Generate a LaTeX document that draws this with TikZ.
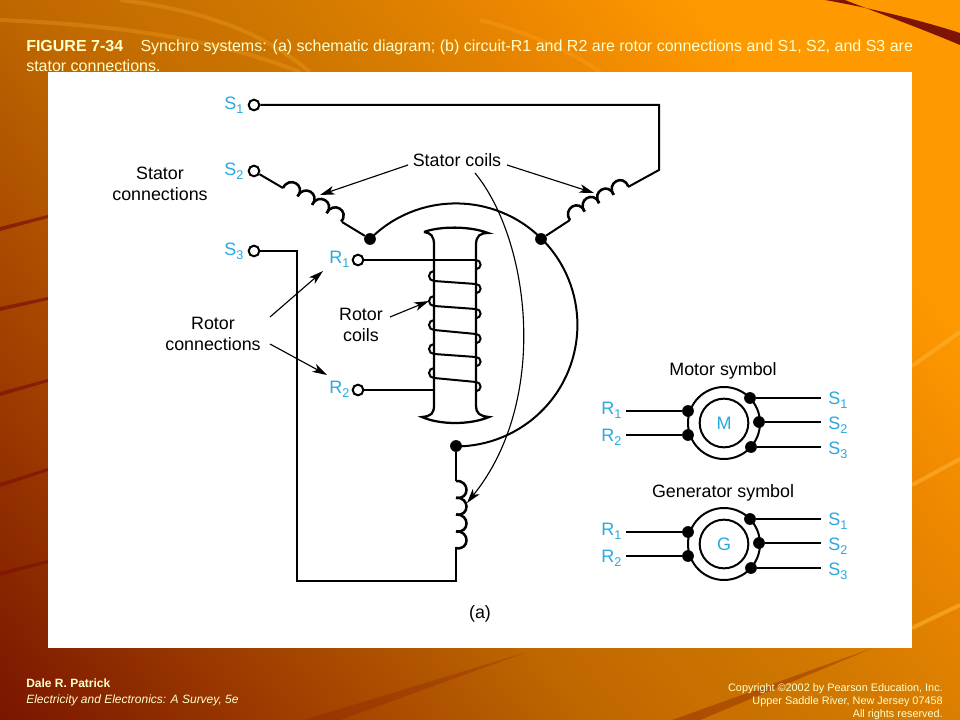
\documentclass[tikz,border=0pt]{standalone}
\usepackage{fontspec}
\setmainfont{Liberation Sans}
\usetikzlibrary{arrows.meta}

\definecolor{labelblue}{HTML}{29A9E0}
\definecolor{titlecream}{HTML}{FFFFCC}
\definecolor{stripered}{HTML}{7E1408}
\definecolor{streaklight}{HTML}{FFB030}
\definecolor{bgA}{HTML}{7A1500}
\definecolor{bgB}{HTML}{A04000}
\definecolor{bgC}{HTML}{C06800}
\definecolor{bgD}{HTML}{D07800}
\definecolor{bgE}{HTML}{EE8800}
\definecolor{bgF}{HTML}{FF9900}

\pgfdeclareverticalshading{slidebg}{100bp}{color(0bp)=(bgA); color(14.8bp)=(bgA); color(28.9bp)=(bgB); color(42.3bp)=(bgC); color(54.2bp)=(bgD); color(65.5bp)=(bgE); color(73.2bp)=(bgF); color(100bp)=(bgF)}

\newcommand{\lowsub}[1]{\smash{\raisebox{-3.4pt}{\fontsize{9.5}{9.5}\selectfont #1}}}

\tikzset{
  wire/.style={line width=1.5pt},
  thinarrow/.style={line width=0.85pt,-{Stealth[length=11pt,width=6.5pt,inset=3pt]}},
  terminal/.style={circle,draw,fill=white,line width=1.5pt,inner sep=0pt,minimum size=8pt},
  junction/.style={circle,fill=black,inner sep=0pt,minimum size=8.8pt},
  sig/.style={text=labelblue,font=\fontsize{13.5}{13.5}\selectfont,inner sep=0pt,anchor=west},
  caption/.style={font=\fontsize{13.4}{15.8}\selectfont,align=center,inner sep=0pt},
  streak/.style={line width=3pt,streaklight,opacity=0.6},
  coilhumps/.pic={
    \foreach \i in {0,...,3}
      \draw[line width=1.9pt] (\i*16.8,0) .. controls (\i*16.8-1,-14) and (\i*16.8+19,-14) .. (\i*16.8+16.8,0);
  }
}

\begin{document}
\begin{tikzpicture}[x=0.75pt,y=-0.75pt]
  \useasboundingbox (0,0) rectangle (960,720);
  \shade[shading=slidebg,shading angle=-51] (0,0) rectangle (960,720);

  \draw[streak] (912,366) -- (960,332);
  \draw[streak] (912,485) -- (960,459);
  \draw[streak] (912,628) -- (960,605);
  \draw[streak,opacity=0.25] (0,20) .. controls (120,25) and (220,40) .. (300,72);
  \draw[streak,opacity=0.25] (120,0) .. controls (200,10) and (260,30) .. (310,72);
  \draw[streak,opacity=0.25] (480,20) .. controls (520,30) and (570,50) .. (600,72);

  \fill[stripered] (825,0) .. controls (870,8) and (920,20) .. (960,33) -- (960,45) .. controls (920,28) and (870,10) .. (845,0) -- cycle;
  \foreach \ya/\yb in {227/215,307/297,392/379,483/468,572/560}
    \fill[stripered,opacity=0.75] (0,\ya) -- (48,\yb) -- (48,\yb+3) -- (0,\ya+4) -- cycle;
  \fill[stripered,opacity=0.25] (304,720) -- (527,652) -- (340,720) -- cycle;
  \fill[stripered,opacity=0.35] (672,720) -- (873,648) -- (700,720) -- cycle;

  \node[anchor=north west,inner sep=0pt,align=left,text=titlecream,font=\fontsize{12}{14.4}\selectfont] (title) at (26,40)
    {\textbf{FIGURE 7-34}\hspace{13pt}Synchro systems: (a) schematic diagram; (b) circuit-R1 and R2 are rotor connections and S1, S2, and S3 are\\stator connections.};
  \node[anchor=north west,inner sep=0pt,align=left,text=titlecream,font=\fontsize{9}{11.3}\selectfont] (author) at (26,679)
    {\textbf{Dale R. Patrick}\\\textit{Electricity and Electronics: A Survey, 5e}};
  \node[anchor=north east,inner sep=0pt,align=right,text=titlecream,font=\fontsize{8.15}{9.8}\selectfont] (rights) at (943,683)
    {Copyright ©2002 by Pearson Education, Inc.\\Upper Saddle River, New Jersey 07458\\All rights reserved.};

  \fill[white] (48,72) rectangle (912,648);

  \node[terminal] (S1term) at (254,105) {};
  \node[terminal] (S2term) at (254,171) {};
  \node[terminal] (S3term) at (254,251) {};
  \node[terminal] (R1term) at (358,260) {};
  \node[terminal] (R2term) at (358,390) {};
  \node[sig] (S1lab) at (224,103) {S\lowsub{1}};
  \node[sig] (S2lab) at (224,169) {S\lowsub{2}};
  \node[sig] (S3lab) at (224,249) {S\lowsub{3}};
  \node[sig] (R1lab) at (329,257) {R\lowsub{1}};
  \node[sig] (R2lab) at (329,387) {R\lowsub{2}};

  \node[junction] (dotA) at (370,239) {};
  \node[junction] (dotB) at (541,239) {};
  \node[junction] (dotC) at (456,446) {};
  \draw[wire] (dotA.center) arc[start angle=-135,end angle=90,radius=121.5];

  \coordinate (coilAa) at (283,188);
  \coordinate (coilAb) at (342,222);
  \coordinate (coilBa) at (570,220);
  \coordinate (coilBb) at (628,187);
  \coordinate (coilCa) at (456,481);
  \coordinate (coilCb) at (456,547);
  \coordinate (cornerA) at (659,105);
  \coordinate (cornerB) at (659,170);
  \coordinate (cornerC) at (456,581);
  \coordinate (cornerD) at (297,581);
  \coordinate (cornerE) at (297,251);

  \draw[wire] (S2term) -- (coilAa);
  \draw[wire] (coilAb) -- (dotA);
  \draw[wire] (dotB) -- (coilBa);
  \draw[wire] (coilBb) -- (cornerB) -- (cornerA) -- (S1term);
  \draw[wire] (dotC) -- (coilCa);
  \draw[wire] (coilCb) -- (cornerC) -- (cornerD) -- (cornerE) -- (S3term);
  \pic[rotate=-30] at (coilAa) {coilhumps};
  \pic[rotate=30] at (coilBa) {coilhumps};
  \pic[rotate=-90] at (coilCa) {coilhumps};

  \draw[line width=1.7pt] (424,232) .. controls (440,226) and (470,226) .. (488,233)
    .. controls (480,233) and (476,236) .. (476,245) -- (476,405) .. controls (476,414) and (480,416) .. (489,417)
    .. controls (470,425) and (440,425) .. (422,417) .. controls (431,416) and (434,414) .. (434,405)
    -- (434,245) .. controls (434,236) and (431,233) .. (424,232);
  \coordinate (R1end) at (476,260);
  \coordinate (R2end) at (434,390);
  \draw[wire] (R1term) -- (R1end);
  \draw[wire] (R2term) -- (R2end);
  \draw[wire] (476,260) arc[start angle=-90,end angle=90,radius=4.6];
  \foreach \ya/\yb in {281/284,306/309,330/334,354/357,378/382} {
    \draw[wire] (434,\ya) -- (476,\yb);
    \draw[wire] (476,\yb) arc[start angle=-90,end angle=90,radius=4.6];
    \draw[wire] (434,\ya-10) arc[start angle=-90,end angle=-270,radius=5];
  }

  \node[caption] (statorconn) at (160,184) {Stator\\connections};
  \node[caption] (rotorconn) at (213,334) {Rotor\\connections};
  \node[caption] (statorcoils) at (457,160) {Stator coils};
  \node[caption] (rotorcoils) at (361,325) {Rotor\\coils};
  \node[caption] (parta) at (480,614) {(a)};
  \node[caption] (motorlab) at (723,371) {Motor symbol};
  \node[caption] (genlab) at (723,493) {Generator symbol};

  \coordinate (arrA) at (408,165);
  \coordinate (arrB) at (507,165);
  \coordinate (arrC) at (475,173);
  \coordinate (arrD) at (390,317);
  \coordinate (arrE) at (270,317);
  \coordinate (arrF) at (270,344);
  \coordinate (tipA) at (320,195);
  \coordinate (tipB) at (594,193);
  \coordinate (tipC) at (467,503);
  \coordinate (tipD) at (429,301);
  \coordinate (tipE) at (323,271);
  \coordinate (tipF) at (327,375);
  \draw[thinarrow] (arrA) -- (tipA);
  \draw[thinarrow] (arrB) -- (tipB);
  \draw[thinarrow] (arrC) .. controls (530,240) and (550,400) .. (tipC);
  \draw[thinarrow] (arrD) -- (tipD);
  \draw[thinarrow] (arrE) -- (tipE);
  \draw[thinarrow] (arrF) -- (tipF);

  \foreach \sym/\ltr/\dy in {m/M/0,g/G/121} {
    \begin{scope}[yshift=-0.75*\dy pt]
      \node[circle,draw,line width=1.5pt,inner sep=0pt,minimum size=54pt] (outer\sym) at (724,423) {};
      \node[circle,draw,line width=1.5pt,inner sep=0pt,minimum size=36.5pt,text=labelblue,font=\fontsize{13.5}{13.5}\selectfont] (inner\sym) at (724,423) {\ltr};
      \node[junction] (dotRa\sym) at (688,411) {};
      \node[junction] (dotRb\sym) at (688,435) {};
      \node[junction] (dotSa\sym) at (750,398) {};
      \node[junction] (dotSb\sym) at (759,422) {};
      \node[junction] (dotSc\sym) at (751,447) {};
      \coordinate (endRa\sym) at (626,411);
      \coordinate (endRb\sym) at (626,435);
      \coordinate (endSa\sym) at (821,398);
      \coordinate (endSb\sym) at (821,422);
      \coordinate (endSc\sym) at (821,447);
      \draw[wire] (endRa\sym) -- (dotRa\sym);
      \draw[wire] (endRb\sym) -- (dotRb\sym);
      \draw[wire] (dotSa\sym) -- (endSa\sym);
      \draw[wire] (dotSb\sym) -- (endSb\sym);
      \draw[wire] (dotSc\sym) -- (endSc\sym);
      \node[sig] (labRa\sym) at (601,408) {R\lowsub{1}};
      \node[sig] (labRb\sym) at (601,435) {R\lowsub{2}};
      \node[sig] (labSa\sym) at (828,398) {S\lowsub{1}};
      \node[sig] (labSb\sym) at (828,423) {S\lowsub{2}};
      \node[sig] (labSc\sym) at (828,448) {S\lowsub{3}};
    \end{scope}
  }
\end{tikzpicture}
\end{document}
